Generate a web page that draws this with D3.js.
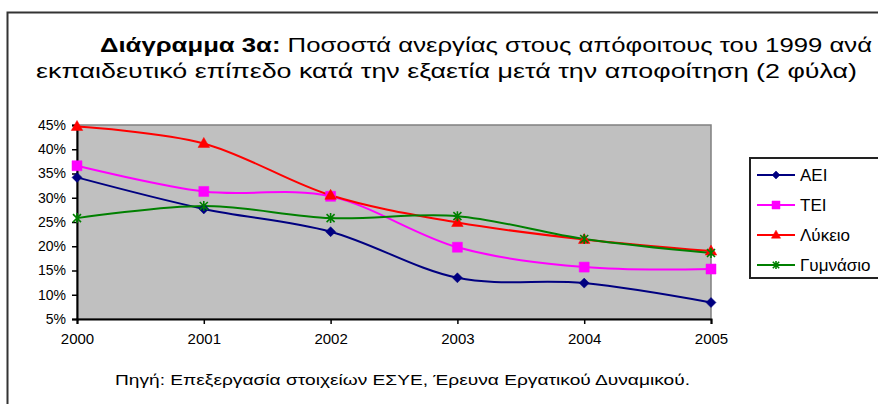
<!DOCTYPE html>
<html>
<head>
<meta charset="utf-8">
<script src="https://cdn.jsdelivr.net/npm/d3@7"></script>
<style>
  html, body { margin: 0; padding: 0; background: #fff; }
  svg { display: block; font-family: Arial, "Liberation Sans", sans-serif; }
</style>
</head>
<body>
<svg id="chart" width="878" height="404"></svg>
<script>
// Years after graduation (graduates of 1999)
const years = [2000, 2001, 2002, 2003, 2004, 2005];

// Unemployment rate (%) by education level
const aei      = [34.2, 27.7, 23.0, 13.5, 12.4, 8.4];
const tei      = [36.6, 31.3, 30.3, 19.8, 15.7, 15.3];
const lykeio   = [44.7, 41.2, 30.5, 24.9, 21.4, 19.0];
const gymnasio = [25.8, 28.3, 25.8, 26.2, 21.5, 18.6];

const seriesNames  = ["ΑΕΙ", "ΤΕΙ", "Λύκειο", "Γυμνάσιο"];
const seriesColors = ["#000080", "#FF00FF", "#FF0000", "#008000"];
const seriesShapes = ["diamond", "square", "triangle", "star"];

const yTicks = [5, 10, 15, 20, 25, 30, 35, 40, 45];

const titleBold = "Διάγραμμα 3α:";
const titleRest = " Ποσοστά ανεργίας στους απόφοιτους του 1999 ανά";
const titleLine2 = "εκπαιδευτικό επίπεδο κατά την εξαετία μετά την αποφοίτηση (2 φύλα)";
const sourceText = "Πηγή: Επεξεργασία στοιχείων ΕΣΥΕ, Έρευνα Εργατικού Δυναμικού.";

const series = [aei, tei, lykeio, gymnasio].map((vals, i) => ({
  name: seriesNames[i],
  color: seriesColors[i],
  shape: seriesShapes[i],
  values: vals.map((v, j) => ({ year: years[j], value: v }))
}));

const svg = d3.select("#chart");

// Outer frame (open to the right and bottom)
svg.append("path")
  .attr("d", "M7.5,404 L7.5,12.5 L878,12.5")
  .attr("fill", "none")
  .attr("stroke", "#333")
  .attr("stroke-width", 2);

// Title
const t1 = svg.append("text")
  .attr("x", 100).attr("y", 52)
  .attr("font-size", 20)
  .attr("fill", "#000")
  .attr("textLength", 772)
  .attr("lengthAdjust", "spacingAndGlyphs");
t1.append("tspan").attr("font-weight", "bold").text(titleBold);
t1.append("tspan").text(titleRest);

svg.append("text")
  .attr("x", 36).attr("y", 78)
  .attr("font-size", 20)
  .attr("fill", "#000")
  .attr("textLength", 821)
  .attr("lengthAdjust", "spacingAndGlyphs")
  .text(titleLine2);

// Plot area
const plot = { left: 77, right: 711, top: 125, bottom: 319 };

const x = d3.scalePoint()
  .domain(years)
  .range([plot.left, plot.right]);

const y = d3.scaleLinear()
  .domain([5, 45])
  .range([plot.bottom, plot.top]);

svg.append("rect")
  .attr("x", plot.left).attr("y", plot.top)
  .attr("width", plot.right - plot.left)
  .attr("height", plot.bottom - plot.top)
  .attr("fill", "#C0C0C0")
  .attr("stroke", "#808080")
  .attr("stroke-width", 1.5);

// Axes
const yAxis = d3.axisLeft(y)
  .tickValues(yTicks)
  .tickFormat(d => d + "%")
  .tickSize(5)
  .tickPadding(6);

const gy = svg.append("g")
  .attr("transform", `translate(${plot.left},0)`)
  .call(yAxis);
gy.select(".domain").attr("stroke", "#000").attr("stroke-width", 2);
gy.selectAll(".tick line").attr("stroke", "#000").attr("stroke-width", 1.5);
gy.selectAll(".tick text")
  .attr("font-size", 14)
  .attr("font-family", "Arial, 'Liberation Sans', sans-serif")
  .attr("fill", "#000");

const xAxis = d3.axisBottom(x)
  .tickSize(5)
  .tickPadding(9);

const gx = svg.append("g")
  .attr("transform", `translate(0,${plot.bottom})`)
  .call(xAxis);
gx.select(".domain").attr("stroke", "#000").attr("stroke-width", 2);
gx.selectAll(".tick line").attr("stroke", "#000").attr("stroke-width", 1.5);
gx.selectAll(".tick text")
  .attr("font-size", 15)
  .attr("font-family", "Arial, 'Liberation Sans', sans-serif")
  .attr("fill", "#000");

// Marker shapes
function markerPath(shape, s) {
  switch (shape) {
    case "diamond":
      return `M0,${-s} L${s},0 L0,${s} L${-s},0 Z`;
    case "square":
      return `M${-s},${-s} L${s},${-s} L${s},${s} L${-s},${s} Z`;
    case "triangle":
      return `M0,${-s * 1.2} L${s * 1.15},${s * 0.8} L${-s * 1.15},${s * 0.8} Z`;
    case "star":
      return `M0,${-s} L0,${s} M${-s * 0.8},${-s * 0.8} L${s * 0.8},${s * 0.8} M${s * 0.8},${-s * 0.8} L${-s * 0.8},${s * 0.8}`;
  }
}

function drawMarker(g, shape, color, size) {
  const p = g.append("path").attr("d", markerPath(shape, size));
  if (shape === "star") {
    p.attr("fill", "none").attr("stroke", color).attr("stroke-width", 1.6);
  } else {
    p.attr("fill", color).attr("stroke", color).attr("stroke-width", 0.5);
  }
}

const markerSize = { diamond: 5, square: 5, triangle: 5, star: 5 };

// Smoothed lines
const line = d3.line()
  .x(d => x(d.year))
  .y(d => y(d.value))
  .curve(d3.curveCardinal.tension(0));

const gSeries = svg.append("g");
series.forEach(s => {
  gSeries.append("path")
    .datum(s.values)
    .attr("fill", "none")
    .attr("stroke", s.color)
    .attr("stroke-width", 2)
    .attr("d", line);
});
series.forEach(s => {
  s.values.forEach(d => {
    const g = gSeries.append("g")
      .attr("transform", `translate(${x(d.year)},${y(d.value)})`);
    drawMarker(g, s.shape, s.color, markerSize[s.shape]);
  });
});

// Legend
const legend = { x: 750, y: 158, w: 140, h: 120 };
svg.append("rect")
  .attr("x", legend.x).attr("y", legend.y)
  .attr("width", legend.w).attr("height", legend.h)
  .attr("fill", "#fff")
  .attr("stroke", "#222")
  .attr("stroke-width", 2);

series.forEach((s, i) => {
  const cy = 175 + i * 30;
  const g = svg.append("g");
  g.append("line")
    .attr("x1", 757).attr("x2", 795)
    .attr("y1", cy).attr("y2", cy)
    .attr("stroke", s.color).attr("stroke-width", 2);
  const mg = g.append("g").attr("transform", `translate(776,${cy})`);
  drawMarker(mg, s.shape, s.color, 4);
  g.append("text")
    .attr("x", 800).attr("y", cy + 6)
    .attr("font-size", 17)
    .attr("fill", "#000")
    .text(s.name);
});

// Source note
svg.append("text")
  .attr("x", 115).attr("y", 385)
  .attr("font-size", 15)
  .attr("fill", "#000")
  .attr("textLength", 575)
  .attr("lengthAdjust", "spacingAndGlyphs")
  .text(sourceText);
</script>
</body>
</html>
